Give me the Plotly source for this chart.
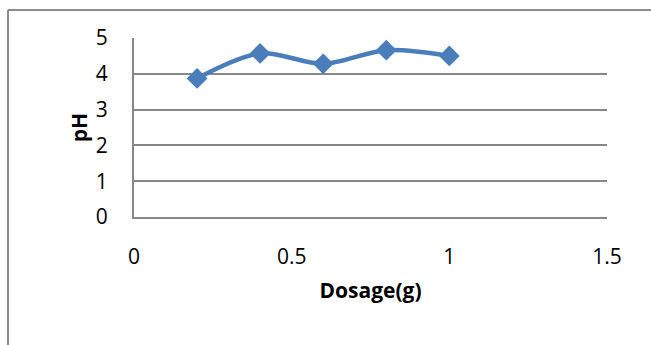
import plotly.graph_objects as go

# Dosage (g) versus measured pH
dosage = [0.2, 0.4, 0.6, 0.8, 1.0]
ph = [3.87, 4.57, 4.28, 4.66, 4.50]

x_ticks = [0, 0.5, 1, 1.5]
x_tick_text = ["0", "0.5", "1", "1.5"]
y_ticks = [0, 1, 2, 3, 4, 5]

W, H = 651, 345
L, R, T, B = 134, 44, 38, 128

line_blue = "#4a7ebb"
grid_grey = "#878787"
font_family = "Open Sans, Lato, sans-serif"

fig = go.Figure()
fig.add_trace(go.Scatter(
    x=dosage, y=ph,
    mode="lines+markers",
    line=dict(color=line_blue, width=4.5, shape="spline", smoothing=0.9),
    marker=dict(symbol="diamond", size=16, color=line_blue,
                line=dict(width=0)),
    showlegend=False,
))

plot_w = W - L - R
plot_h = H - T - B
# outer chart frame, open on the right and bottom
fx0 = (8 - L) / plot_w
fy1 = (H - B - 10) / plot_h

fig.update_layout(
    width=W, height=H,
    margin=dict(l=L, r=R, t=T, b=B),
    paper_bgcolor="white",
    plot_bgcolor="white",
    font=dict(family=font_family, size=21, color="#000000"),
    shapes=[
        dict(type="line", xref="paper", yref="paper",
             x0=fx0, x1=fx0, y0=fy1, y1=-1.0,
             line=dict(color="#8c8c8c", width=2), layer="below"),
        dict(type="line", xref="paper", yref="paper",
             x0=fx0, x1=1.2, y0=fy1, y1=fy1,
             line=dict(color="#8c8c8c", width=2), layer="below"),
    ],
    xaxis=dict(
        range=[0, 1.5], tickvals=x_ticks, ticktext=x_tick_text,
        showgrid=False, zeroline=False,
        showline=True, linecolor=grid_grey, linewidth=2,
        ticks="outside", ticklen=20, tickcolor="rgba(0,0,0,0)",
        tickfont=dict(size=21),
        title=dict(text="<b>Dosage(g)</b>", font=dict(size=21), standoff=14),
    ),
    yaxis=dict(
        range=[0, 5], tickvals=y_ticks,
        showgrid=True, gridcolor=grid_grey, gridwidth=2,
        zeroline=False,
        showline=True, linecolor=grid_grey, linewidth=2,
        ticks="outside", ticklen=20, tickcolor="rgba(0,0,0,0)",
        tickfont=dict(size=21),
        title=dict(text="<b>pH</b>", font=dict(size=21), standoff=2),
    ),
)

fig.write_html("out.html")
